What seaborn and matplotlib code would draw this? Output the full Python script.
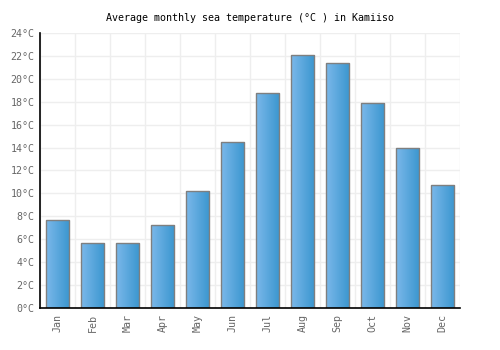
import numpy as np
import pandas as pd
import matplotlib
matplotlib.use("Agg")
import matplotlib.pyplot as plt
import seaborn as sns
from matplotlib.colors import LinearSegmentedColormap

months = ["Jan", "Feb", "Mar", "Apr", "May", "Jun", "Jul", "Aug", "Sep", "Oct", "Nov", "Dec"]
temps = [7.7, 5.7, 5.7, 7.2, 10.2, 14.5, 18.8, 22.1, 21.4, 17.9, 14.0, 10.7]
yticks = list(range(0, 25, 2))
ytick_labels = [f"{v}°C" for v in yticks]
title = "Average monthly sea temperature (°C ) in Kamiiso"

sns.set_theme(style="white")
plt.rcParams['font.family'] = ['DejaVu Sans Mono', 'DejaVu Sans']

df = pd.DataFrame({"month": months, "temp": temps})

fig = plt.figure(figsize=(5, 3.5), dpi=100)
ax = fig.add_axes([0.08, 0.12, 0.84, 0.786])

sns.barplot(data=df, x="month", y="temp", ax=ax, width=0.68,
            color="#5aa8dd", edgecolor="#7f7f7f", linewidth=1.0, saturation=1)

cmap = LinearSegmentedColormap.from_list("g", ["#7bb8ea", "#3a96cf"])
grad = np.linspace(0, 1, 64).reshape(1, -1)
for p in list(ax.patches):
    x0, y0 = p.get_x(), p.get_y()
    w, h = p.get_width(), p.get_height()
    im = ax.imshow(grad, cmap=cmap, aspect="auto",
                   extent=[x0, x0 + w, y0, y0 + h], zorder=p.get_zorder() + 0.1)
    im.set_clip_path(p)
    p.set_facecolor("none")
    p.set_zorder(p.get_zorder() + 0.2)

ax.set_xlim(-0.5, len(months) - 0.5)
ax.set_ylim(0, 24)
ax.set_yticks(yticks)
ax.set_yticklabels(ytick_labels)
ax.set_xticks(range(len(months)))
ax.set_xticklabels(months, rotation=90)
ax.set_xticks(np.arange(-0.5, len(months), 1.0), minor=True)

ax.set_axisbelow(True)
ax.grid(True, axis="y", which="major", color="#eeeeee", linewidth=1)
ax.grid(True, axis="x", which="minor", color="#eeeeee", linewidth=1)
ax.grid(False, axis="x", which="major")

ax.tick_params(axis="both", which="both", length=0, labelsize=7.2, colors="#666666", pad=4)
ax.set_xlabel("")
ax.set_ylabel("")

for s in ["top", "right"]:
    ax.spines[s].set_visible(False)
for s in ["left", "bottom"]:
    ax.spines[s].set_color("black")
    ax.spines[s].set_linewidth(1.2)

fig.text(0.5, 0.948, title, ha="center", va="center", fontsize=7.2, color="black")

fig.savefig("out.png", dpi=100, facecolor="white")
